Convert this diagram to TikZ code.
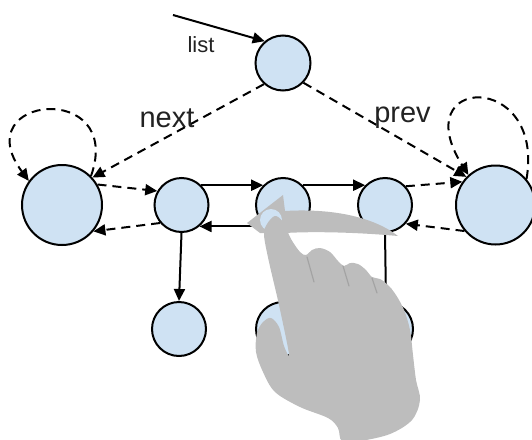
\documentclass[tikz,border=0pt]{standalone}
\usepackage{fontspec}
\setmainfont{Liberation Sans}
\usetikzlibrary{arrows.meta}

\definecolor{nodeblue}{HTML}{CFE2F3}
\definecolor{handgray}{HTML}{BDBDBD}
\definecolor{creasegray}{HTML}{8E8E8E}
\definecolor{labelink}{HTML}{222222}

\tikzset{
  elem/.style={circle, draw=black, line width=2pt, fill=nodeblue, inner sep=0pt, minimum size=54pt},
  bigelem/.style={elem, minimum size=80pt},
  arr/.style={line width=2pt, -{Triangle[length=12pt,width=11pt]}},
  dsh/.style={dash pattern=on 9pt off 6pt},
  lbl/.style={text=labelink, inner sep=0pt, anchor=base},
  hand/.style={fill=handgray, draw=none},
}

\begin{document}
\begin{tikzpicture}[x=1pt, y=-1pt]
  \useasboundingbox (0,0) rectangle (532,439);

  % list elements
  \node[elem, minimum size=55pt] (T) at (283,63) {};
  \node[bigelem] (L) at (62,205) {};
  \node[bigelem, minimum size=79pt] (R) at (495.5,205) {};
  \node[elem] (A) at (181.5,205) {};
  \node[elem] (B) at (283,205) {};
  \node[elem] (C) at (385,205) {};
  \node[elem] (D) at (179,329) {};
  \node[elem] (E) at (283,329) {};
  \node[elem] (F) at (386,329) {};

  \coordinate (listsrc) at (173,15);

  % head pointer
  \draw[arr] (listsrc) -- (T.130);
  \node[lbl, font=\fontsize{22}{22}\selectfont] at (201,52) {list};

  % next / prev from the head
  \draw[arr, dsh] (T.228) -- (L.42);
  \draw[arr, dsh] (T.-44) -- (R.136);
  \node[lbl, font=\fontsize{29}{29}\selectfont] at (167,127) {next};
  \node[lbl, font=\fontsize{29}{29}\selectfont] at (402.5,122) {prev};

  % self loops on the sentinels
  \draw[arr, dsh] (L.45) .. controls (125,80) and (-35,95) .. (L.144);
  \draw[arr, dsh] (R.40) .. controls (545,70) and (405,75) .. (R.132);

  % horizontal links
  \draw[arr, dsh] (L.30) -- (A.150);
  \draw[arr, dsh] (A.220) -- (L.-40);
  \draw[arr] (A.45) -- (B.135);
  \draw[arr] (B.45) -- (C.135);
  \draw[arr] (B.-130) -- (A.-50);
  \draw[arr, dsh] (C.42) -- (R.145);
  \draw[arr, dsh] (R.220) -- (C.-42);

  % vertical links
  \draw[arr] (A.south) -- (D.north);
  \draw[arr] (B.south) -- (E.north);
  \draw[arr] (C.south) -- (F.north);

  % swipe gesture
  \fill[handgray] (247,223) -- (283,195) -- (285,211)
    .. controls (335,208) and (375,218) .. (398,236)
    .. controls (365,233) and (320,231) .. (285,233)
    -- (260,233) -- cycle;
  \fill[nodeblue] (271,220) circle[radius=11pt];

  % hand
  \path[hand] plot[smooth cycle, tension=0.55] coordinates {
    (267,224) (275,216) (283,222) (291,239) (300,252) (306,255)
    (312,250) (320,248) (330,252) (338,261) (344,266)
    (350,263) (358,264) (366,270) (372,277)
    (380,279) (388,285) (396,295) (404,310) (410,330) (413,355)
    (416,380) (420,400) (412,420) (390,434) (360,441) (342,441)
    (338,428) (328,418) (300,407) (275,392) (263,372) (256,352)
    (257,333) (263,322) (271,318) (279,327) (284,346) (289,354)
    (279,305) (269,262) (264,235)
  };
  % finger creases
  \draw[creasegray, line width=1.2pt, opacity=0.55, line cap=round] (307,257) -- (314,282);
  \draw[creasegray, line width=1.2pt, opacity=0.55, line cap=round] (343,266) -- (349,286);
  \draw[creasegray, line width=1.2pt, opacity=0.55, line cap=round] (372,278) -- (377,293);
\end{tikzpicture}
\end{document}
